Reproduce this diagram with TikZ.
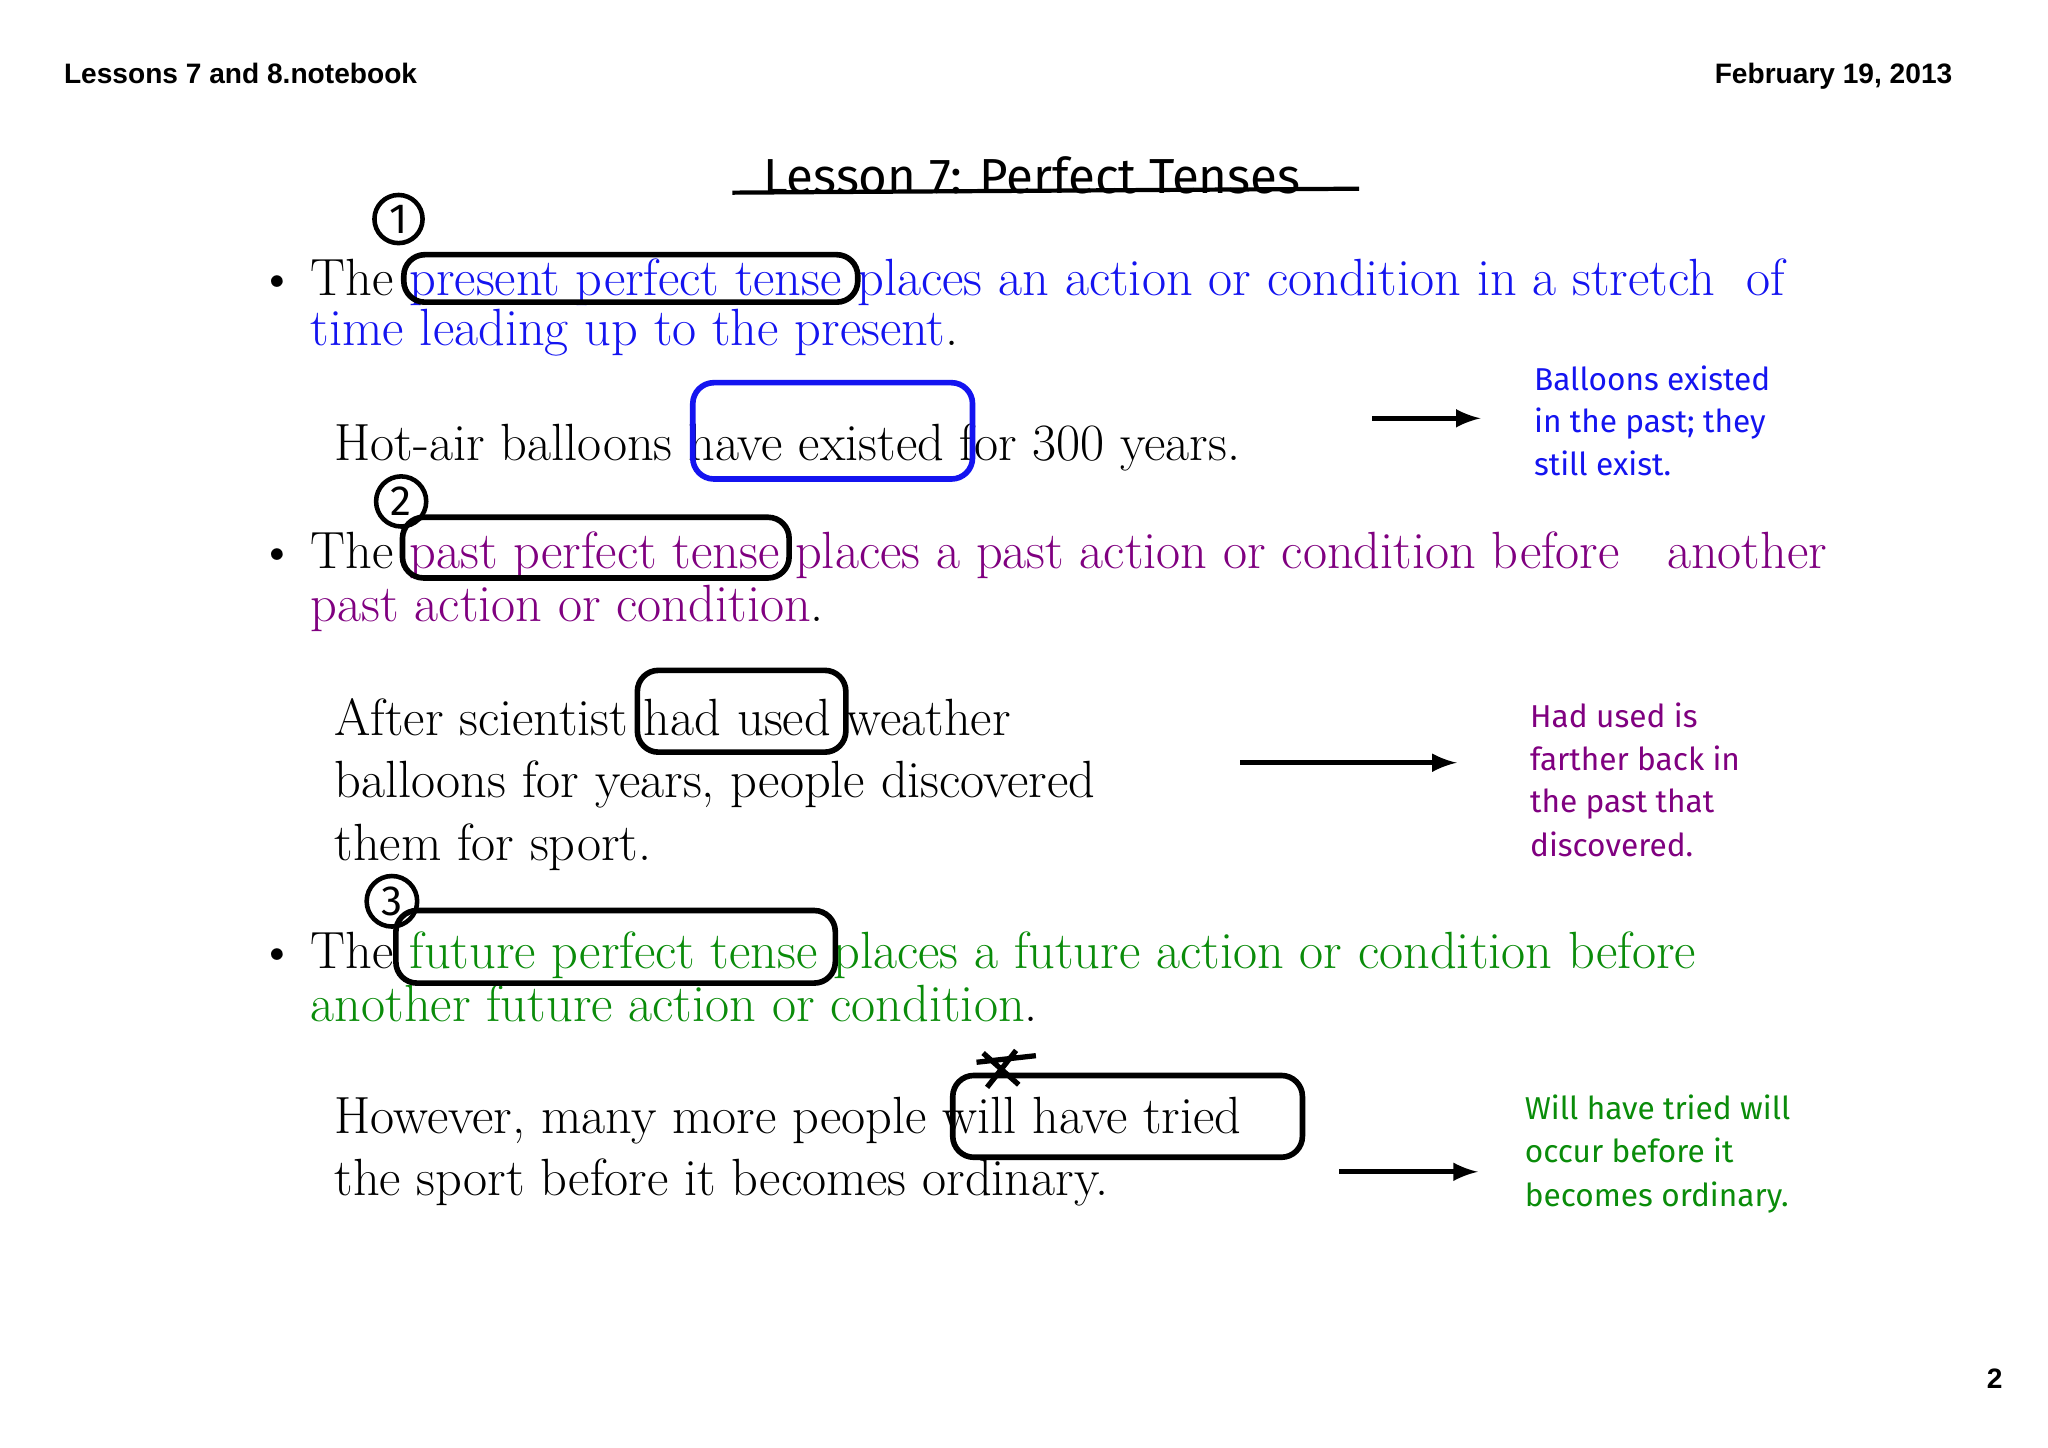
\documentclass[tikz,border=0pt]{standalone}
\usepackage{fontspec}
\setmainfont{Latin Modern Roman}
\newfontfamily\hdr{Liberation Sans}
\newfontfamily\hand{Fira Sans}
\definecolor{pblue}{RGB}{20,20,240}
\definecolor{ppurp}{RGB}{128,0,128}
\definecolor{pgreen}{RGB}{10,140,10}
\begin{document}
\begin{tikzpicture}[x=0.013196cm,y=-0.013196cm,
  body/.style={anchor=base west,inner sep=0,font=\fontsize{14.9}{17}\selectfont},
  note/.style={anchor=base west,inner sep=0,font=\hand\fontsize{9}{11}\selectfont},
  hbox/.style={draw,line width=1.6pt,rounded corners=6pt},
  arr/.style={-latex,line width=1.4pt},
  circnum/.style={draw,line width=1.3pt,circle,inner sep=1.5pt,font=\hand\fontsize{12}{12}\selectfont}]
\useasboundingbox (0,0) rectangle (1552,1097);
\fill[white] (0,0) rectangle (1552,1097);
\node[anchor=base west,inner sep=0,font=\hdr\bfseries\fontsize{8}{9}\selectfont] (h1) at (48,63) {Lessons 7 and 8.notebook};
\node[anchor=base east,inner sep=0,font=\hdr\bfseries\fontsize{8}{9}\selectfont] (h2) at (1480,63) {February 19, 2013};
\node[anchor=base east,inner sep=0,font=\hdr\bfseries\fontsize{8}{9}\selectfont] (pg) at (1518,1052) {2};
% title
\node[anchor=base,inner sep=0,font=\hand\fontsize{14}{16}\selectfont] (title) at (782,147) {Lesson 7: Perfect Tenses};
\draw[line width=1.2pt] (555,146) -- (1030,143);
% circled numbers
\node[circnum] (c1) at (302,166) {1};
\node[circnum] (c2) at (304,380) {2};
\node[circnum] (c3) at (297,683) {3};
% section 1
\node[body] (b1) at (195,224) {\textbullet};
\node[body] (l1) at (235,224) {The \textcolor{pblue}{present perfect tense places an action or condition in a stretch\ \ of}};
\node[body,text=pblue] (l2) at (235,262) {time leading up to the present\textcolor{black}{.}};
\draw[hbox] (306,193) rectangle (650,229);
\node[body] (s1) at (253,349) {Hot-air balloons have existed for 300 years.};
\draw[hbox,draw=pblue] (525,290) rectangle (737,363);
\coordinate (a1s) at (1040,317); \coordinate (a1e) at (1122,317);
\draw[arr] (a1s) -- (a1e);
\node[note,text=pblue] (n11) at (1162,296) {Balloons existed};
\node[note,text=pblue] (n12) at (1162,328) {in the past; they};
\node[note,text=pblue] (n13) at (1162,360) {still exist.};
% section 2
\node[body] (b2) at (195,431) {\textbullet};
\node[body] (m1) at (235,431) {The \textcolor{ppurp}{past perfect tense places a past action or condition before\ \ \ another}};
\node[body,text=ppurp] (m2) at (235,471) {past action or condition\textcolor{black}{.}};
\draw[hbox] (305,392) rectangle (598,438);
\node[body] (t1) at (253,557) {After scientist had used weather};
\node[body] (t2) at (253,604) {balloons for years, people discovered};
\node[body] (t3) at (253,652) {them for sport.};
\draw[hbox] (483,508) rectangle (641,570);
\coordinate (a2s) at (940,578); \coordinate (a2e) at (1104,578);
\draw[arr] (a2s) -- (a2e);
\node[note,text=ppurp] (n21) at (1159,551) {Had used is};
\node[note,text=ppurp] (n22) at (1159,584) {farther back in};
\node[note,text=ppurp] (n23) at (1159,616) {the past that};
\node[note,text=ppurp] (n24) at (1159,649) {discovered.};
% section 3
\node[body] (b3) at (195,734) {\textbullet};
\node[body] (f1) at (235,734) {The \textcolor{pgreen}{future perfect tense places a future action or condition before}};
\node[body,text=pgreen] (f2) at (235,774) {another future action or condition\textcolor{black}{.}};
\draw[hbox] (300,690) rectangle (633,745);
\node[body] (u1) at (253,859) {However, many more people will have tried};
\node[body] (u2) at (253,906) {the sport before it becomes ordinary.};
\draw[hbox] (722,815) rectangle (987,877);
\draw[line width=1.5pt] (745,798) -- (772,822) (770,796) -- (748,824) (740,805) -- (785,800);
\coordinate (a3s) at (1015,888); \coordinate (a3e) at (1120,888);
\draw[arr] (a3s) -- (a3e);
\node[note,text=pgreen] (n31) at (1155,848) {Will have tried will};
\node[note,text=pgreen] (n32) at (1155,881) {occur before it};
\node[note,text=pgreen] (n33) at (1155,914) {becomes ordinary.};
\end{tikzpicture}
\end{document}
